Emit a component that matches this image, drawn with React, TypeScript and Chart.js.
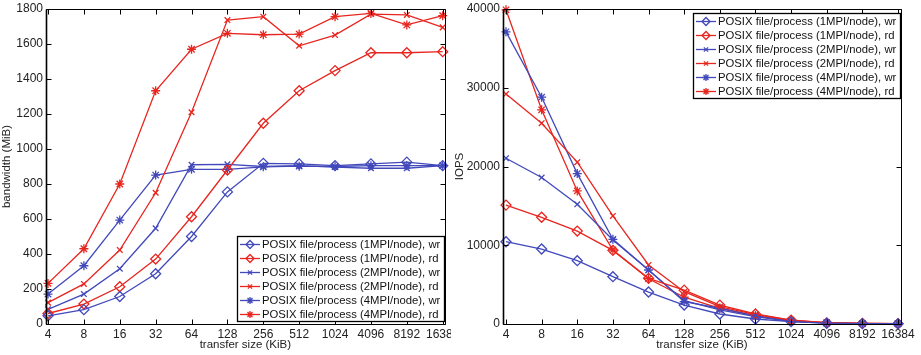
import React, { useEffect, useRef } from "react";
import { Chart, registerables } from "chart.js";
import { drawPoint } from "chart.js/helpers";

Chart.register(...registerables);

const sizeLabels = ["4", "8", "16", "32", "64", "128", "256", "512", "1024", "4096", "8192", "16384"];

const seriesNames = [
  "POSIX file/process (1MPI/node), wr",
  "POSIX file/process (1MPI/node), rd",
  "POSIX file/process (2MPI/node), wr",
  "POSIX file/process (2MPI/node), rd",
  "POSIX file/process (4MPI/node), wr",
  "POSIX file/process (4MPI/node), rd",
];

// bandwidth (MiB)
const bwWr1 = [47, 82, 157, 287, 500, 755, 918, 915, 905, 915, 925, 905];
const bwRd1 = [60, 114, 213, 371, 613, 880, 1147, 1333, 1448, 1550, 1550, 1556];
const bwWr2 = [84, 171, 316, 547, 910, 912, 900, 905, 897, 890, 890, 905];
const bwRd2 = [122, 229, 423, 750, 1210, 1737, 1756, 1590, 1651, 1771, 1766, 1695];
const bwWr4 = [171, 333, 594, 851, 884, 884, 898, 902, 900, 905, 905, 905];
const bwRd4 = [232, 430, 800, 1333, 1570, 1661, 1653, 1657, 1756, 1775, 1709, 1762];

// IOPS
const ioWr1 = [10450, 9520, 8040, 6010, 4060, 2410, 1270, 635, 300, 100, 50, 30];
const ioRd1 = [15100, 13550, 11800, 9350, 5800, 4300, 2400, 1270, 500, 150, 80, 40];
const ioWr2 = [21050, 18600, 15200, 10670, 6860, 2960, 1780, 930, 300, 110, 55, 28];
const ioRd2 = [29200, 25500, 20550, 13720, 7500, 4100, 2200, 1200, 500, 160, 85, 42];
const ioWr4 = [37100, 28800, 19100, 10750, 6860, 2830, 2000, 1050, 400, 120, 60, 30];
const ioRd4 = [39900, 27200, 16900, 9400, 5750, 3400, 2000, 1000, 400, 160, 80, 40];

const bwTicks = [0, 200, 400, 600, 800, 1000, 1200, 1400, 1600, 1800];
const ioTicks = [0, 10000, 20000, 30000, 40000];

const BLUE = "#4249bb";
const RED = "#e8261f";
const FONT = "'Liberation Sans', Arial, sans-serif";

const styles = [
  { color: BLUE, point: "rectRot", r: 5 },
  { color: RED, point: "rectRot", r: 5 },
  { color: BLUE, point: "crossRot", r: 4 },
  { color: RED, point: "crossRot", r: 4 },
  { color: BLUE, point: "star", r: 4.5 },
  { color: RED, point: "star", r: 4.5 },
];

function makeDatasets(series: number[][]) {
  return series.map((vals, i) => ({
    label: seriesNames[i],
    data: vals.map((v, k) => ({ x: k, y: v })),
    borderColor: styles[i].color,
    backgroundColor: "rgba(0,0,0,0)",
    borderWidth: 1.3,
    pointStyle: styles[i].point,
    pointRadius: styles[i].r,
    pointBorderWidth: 1.3,
    pointBorderColor: styles[i].color,
    pointBackgroundColor: "rgba(0,0,0,0)",
    tension: 0,
    clip: 8,
  }));
}

const framePlugin = {
  id: "matlabFrame",
  afterDatasetsDraw(chart: any, _args: any, opts: any) {
    const { ctx, chartArea: a, scales } = chart;
    ctx.save();
    ctx.strokeStyle = "#000";
    ctx.lineWidth = 1;
    const L = Math.round(a.left) + 0.5;
    const R = Math.round(a.right) + 0.5;
    const T = Math.round(a.top) + 0.5;
    const B = Math.round(a.bottom) + 0.5;
    ctx.beginPath();
    ctx.rect(L, T, R - L, B - T);
    const tl = 5;
    scales.x.ticks.forEach((t: any) => {
      const px = Math.round(scales.x.getPixelForValue(t.value)) + 0.5;
      ctx.moveTo(px, B);
      ctx.lineTo(px, B - tl);
      ctx.moveTo(px, T);
      ctx.lineTo(px, T + tl);
    });
    scales.y.ticks.forEach((t: any) => {
      const py = Math.round(scales.y.getPixelForValue(t.value)) + 0.5;
      ctx.moveTo(L, py);
      ctx.lineTo(L + tl, py);
      ctx.moveTo(R, py);
      ctx.lineTo(R - tl, py);
    });
    ctx.stroke();
    ctx.lineWidth = 1.6;
    ctx.beginPath();
    ctx.moveTo(L, T);
    ctx.lineTo(L, B);
    ctx.stroke();

    // legend
    ctx.font = `11.3px ${FONT}`;
    const ds = chart.data.datasets;
    let maxW = 0;
    ds.forEach((d: any) => (maxW = Math.max(maxW, ctx.measureText(d.label).width)));
    const w = Math.round(26 + maxW + 3);
    const rowH = 14;
    const h = 8 + (ds.length - 1) * rowH + 7;
    const bx = Math.round(a.right) - 1 - w;
    const by = opts.pos === "bottom" ? Math.round(a.bottom) - 3 - h : Math.round(a.top) + 4;
    ctx.fillStyle = "#fff";
    ctx.fillRect(bx, by, w, h);
    ctx.strokeStyle = "#000";
    ctx.lineWidth = 1.3;
    ctx.strokeRect(bx + 0.5, by + 0.5, w, h);
    ds.forEach((d: any, i: number) => {
      const cy = by + 8 + i * rowH + 0.5;
      ctx.strokeStyle = d.borderColor;
      ctx.lineWidth = 1.3;
      ctx.beginPath();
      ctx.moveTo(bx + 3, cy);
      ctx.lineTo(bx + 23, cy);
      ctx.stroke();
      ctx.fillStyle = "rgba(0,0,0,0)";
      drawPoint(
        ctx,
        { pointStyle: d.pointStyle, radius: d.pointRadius - 1, borderWidth: 1.3, rotation: 0 } as any,
        bx + 13,
        cy
      );
      ctx.fillStyle = "#111";
      ctx.textBaseline = "middle";
      ctx.textAlign = "left";
      ctx.fillText(d.label, bx + 25, cy + 0.5);
    });
    ctx.restore();
  },
};

function makeConfig(
  series: number[][],
  yTicks: number[],
  yTitle: string,
  yWidth: number,
  padRight: number,
  xPad: number,
  yTitlePad: number,
  legendPos: string
): any {
  return {
    type: "line",
    data: { datasets: makeDatasets(series) },
    plugins: [framePlugin],
    options: {
      animation: false,
      responsive: false,
      maintainAspectRatio: false,
      layout: { padding: { top: 9, right: padRight, left: 0, bottom: 0 } },
      plugins: {
        legend: { display: false },
        tooltip: { enabled: false },
        matlabFrame: { pos: legendPos },
      },
      scales: {
        x: {
          type: "linear",
          min: -xPad,
          max: sizeLabels.length - 1 + xPad,
          afterBuildTicks: (s: any) => {
            s.ticks = sizeLabels.map((_, i) => ({ value: i }));
          },
          afterFit: (s: any) => {
            s.height = 31;
            s.paddingLeft = 0;
            s.paddingRight = 0;
          },
          grid: { display: false, drawTicks: false },
          border: { display: false },
          ticks: {
            autoSkip: false,
            maxRotation: 0,
            padding: 3,
            color: "#222",
            font: { family: FONT, size: 12 },
            callback: (v: number) => sizeLabels[Math.round(v)],
          },
          title: {
            display: true,
            text: "transfer size (KiB)",
            color: "#222",
            font: { family: FONT, size: 11.5 },
            padding: { top: 0, bottom: 3 },
          },
        },
        y: {
          type: "linear",
          min: yTicks[0],
          max: yTicks[yTicks.length - 1],
          afterBuildTicks: (s: any) => {
            s.ticks = yTicks.map((v) => ({ value: v }));
          },
          afterFit: (s: any) => {
            s.width = yWidth;
            s.paddingTop = 0;
            s.paddingBottom = 0;
          },
          grid: { display: false, drawTicks: false },
          border: { display: false },
          ticks: {
            padding: 3,
            color: "#222",
            font: { family: FONT, size: 12 },
            callback: (v: number) => String(v),
          },
          title: {
            display: true,
            text: yTitle,
            color: "#222",
            font: { family: FONT, size: 11.5 },
            padding: { top: yTitlePad, bottom: 0 },
          },
        },
      },
    },
  };
}

function ChartCanvas(props: { config: () => any; left: number; width: number }) {
  const ref = useRef<HTMLCanvasElement | null>(null);
  useEffect(() => {
    if (!ref.current) return;
    const chart = new Chart(ref.current, props.config());
    return () => chart.destroy();
  }, []);
  return (
    <canvas
      ref={ref}
      width={props.width}
      height={355}
      style={{ position: "absolute", left: props.left, top: 0, width: props.width, height: 355 }}
    />
  );
}

export default function App() {
  return (
    <div style={{ position: "fixed", left: 0, top: 0, width: 921, height: 355, background: "#fff" }}>
      <ChartCanvas
        left={0}
        width={451}
        config={() =>
          makeConfig([bwWr1, bwRd1, bwWr2, bwRd2, bwWr4, bwRd4], bwTicks, "bandwidth (MiB)", 46, 6, 0.056, 0, "bottom")
        }
      />
      <ChartCanvas
        left={448}
        width={473}
        config={() =>
          makeConfig([ioWr1, ioRd1, ioWr2, ioRd2, ioWr4, ioRd4], ioTicks, "IOPS", 55, 20, 0.084, 5, "top")
        }
      />
    </div>
  );
}
